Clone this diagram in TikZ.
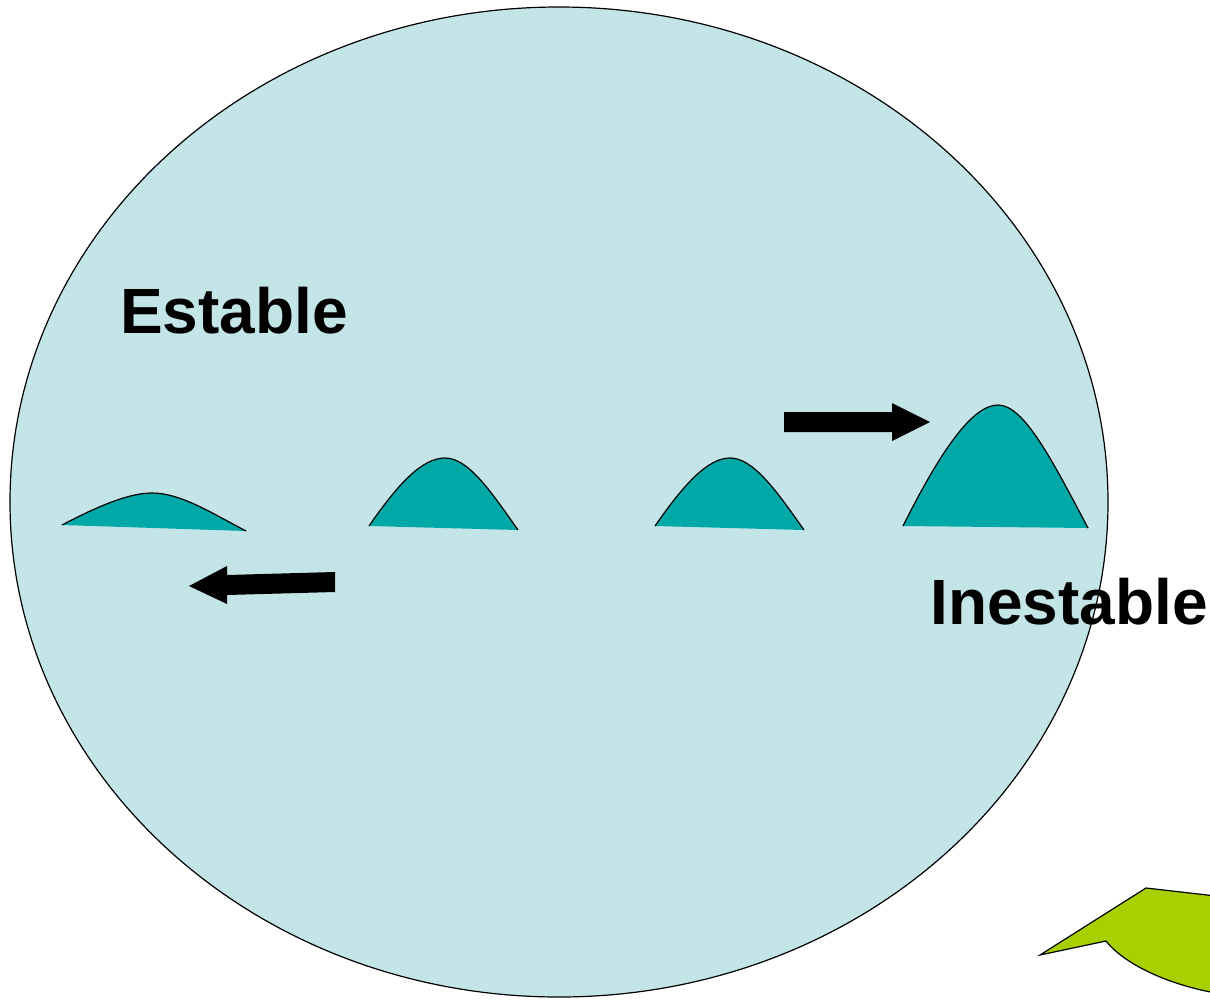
\documentclass[tikz,border=0pt]{standalone}
\usepackage{fontspec}
\setmainfont{Liberation Sans}
\definecolor{bubble}{RGB}{196,229,232}
\definecolor{hump}{RGB}{0,168,168}
\definecolor{lime}{RGB}{168,208,0}
\tikzset{
  outline/.style={draw=black, line width=1.2pt},
  humpfill/.style={fill=hump},
  bigarrow/.style={fill=black},
  label/.style={font=\bfseries\fontsize{64}{64}\selectfont, anchor=base west, inner sep=0pt}
}
\begin{document}
\begin{tikzpicture}[x=1pt,y=-1pt]
\useasboundingbox (0,0) rectangle (1210,999);
\clip (0,0) rectangle (1210,999);
% large pale ellipse
\draw[outline, fill=bubble] (559,502) ellipse [x radius=549, y radius=495];
% callout at lower right
\draw[outline, fill=lime, line join=miter]
  (1106,941) -- (1040,955) -- (1146,888) -- (1216,896) -- (1216,1005)
  -- (1216,993) .. controls (1170,985) and (1125,965) .. (1106,941) -- cycle;
% humps: filled area, stroke only on the curved top
\fill[humpfill] (62,525) .. controls (100,505) and (130,493) .. (152,493)
  .. controls (180,493) and (210,512) .. (246,531) -- cycle;
\draw[outline] (62,525) .. controls (100,505) and (130,493) .. (152,493)
  .. controls (180,493) and (210,512) .. (246,531);
\fill[humpfill] (369,526) .. controls (398,484) and (422,458) .. (445,458)
  .. controls (468,458) and (490,490) .. (518,530) -- cycle;
\draw[outline] (369,526) .. controls (398,484) and (422,458) .. (445,458)
  .. controls (468,458) and (490,490) .. (518,530);
\fill[humpfill] (655,526) .. controls (684,484) and (708,458) .. (730,458)
  .. controls (753,458) and (776,490) .. (804,530) -- cycle;
\draw[outline] (655,526) .. controls (684,484) and (708,458) .. (730,458)
  .. controls (753,458) and (776,490) .. (804,530);
\fill[humpfill] (903,526) .. controls (940,452) and (972,405) .. (998,405)
  .. controls (1024,405) and (1052,460) .. (1088,528) -- cycle;
\draw[outline] (903,526) .. controls (940,452) and (972,405) .. (998,405)
  .. controls (1024,405) and (1052,460) .. (1088,528);
% block arrows
\fill[bigarrow] (335,572) -- (335,592) -- (227,595) -- (227,604) -- (189,586)
  -- (227,566) -- (227,575) -- cycle;
\fill[bigarrow] (784,412) -- (892,412) -- (892,403) -- (930,422) -- (892,441)
  -- (892,432) -- (784,432) -- cycle;
% labels
\node[label] (estable) at (120,333) {Estable};
\node[label] (inestable) at (930,624) {Inestable};
\end{tikzpicture}
\end{document}
